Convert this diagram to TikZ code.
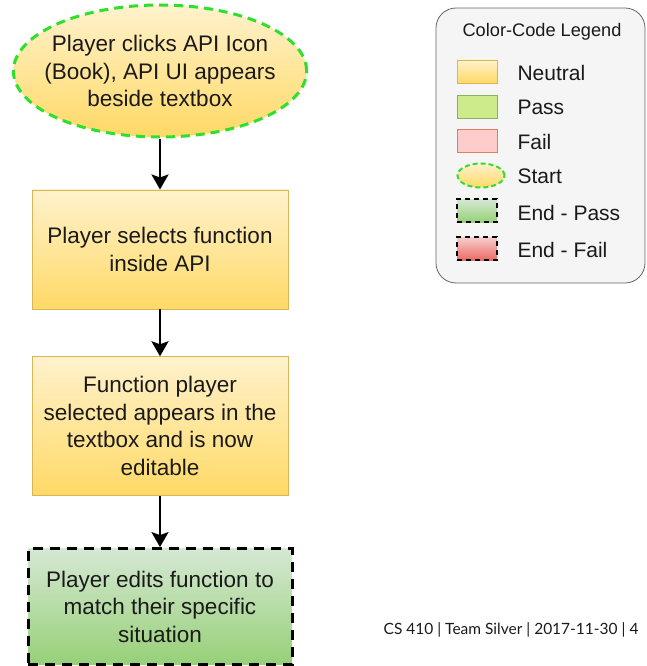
\documentclass[tikz,border=0pt]{standalone}
\usepackage{fontspec}
\setmainfont{Liberation Sans}
\newfontfamily\footfont{Lato}
\usepackage{tikz}
\usetikzlibrary{arrows.meta,shapes,positioning}
\usepackage{xcolor}
\definecolor{nttop}{HTML}{FFF2CC}
\definecolor{ntbot}{HTML}{FFD966}
\definecolor{ntline}{HTML}{D6B656}
\definecolor{pstop}{HTML}{D5E8D4}
\definecolor{psbot}{HTML}{97D077}
\definecolor{psfill}{HTML}{CDEB8B}
\definecolor{psline}{HTML}{82B366}
\definecolor{flfill}{HTML}{FFCCCC}
\definecolor{flline}{HTML}{D9825B}
\definecolor{fltop}{HTML}{F8CECC}
\definecolor{flbot}{HTML}{EA6B66}
\definecolor{stgreen}{HTML}{2EE02E}
\definecolor{lgfill}{HTML}{F5F5F5}
\definecolor{lgline}{HTML}{666666}
\definecolor{txt}{HTML}{1A1A1A}
\tikzstyle{start} = [ellipse, draw=stgreen, line width=3pt, dash pattern=on 9pt off 6pt, top color=nttop, bottom color=ntbot, minimum width=293pt, minimum height=132pt, inner xsep=-12pt, inner ysep=0pt, align=center, text=txt]
\tikzstyle{process} = [rectangle, draw=ntline, line width=0.8pt, top color=nttop, bottom color=ntbot, minimum width=256pt, align=center, text=txt]
\tikzstyle{endpass} = [rectangle, draw=black, line width=3pt, dash pattern=on 10pt off 7pt, top color=pstop, bottom color=psbot, minimum width=264pt, minimum height=116pt, align=center, text=txt]
\tikzstyle{key} = [rectangle, minimum width=40pt, minimum height=23pt, inner sep=0pt]
\tikzstyle{keytext} = [anchor=west, text=txt, font=\fontsize{21}{24}\selectfont]
\tikzstyle{arrow} = [line width=2.5pt, -{Stealth[length=15pt, width=17pt, inset=3pt]}]

\begin{document}
\begin{tikzpicture}[x=1pt, y=1pt, font=\fontsize{22.5}{27.5}\selectfont]
\useasboundingbox (0,0) rectangle (647,-666);
% flow
\node (click) [start] at (160,-71) {Player clicks API Icon\\(Book), API UI appears\\beside textbox};
\node (select) [process, below=51pt of click, minimum height=119pt] {Player selects function\\inside API};
\node (appear) [process, below=47pt of select, minimum height=139pt] {Function player\\selected appears in the\\textbox and is now\\editable};
\node (edit) [endpass, below=51pt of appear] {Player edits function to\\match their specific\\situation};
\draw[arrow] (click) -- (select);
\draw[arrow] (select) -- (appear);
\draw[arrow] (appear) -- (edit);
% legend
\node (legend) [rectangle, rounded corners=20pt, draw=lgline, line width=0.8pt, fill=lgfill, minimum width=209pt, minimum height=275pt] at (540.5,-145.5) {};
\node (title) [text=txt, font=\fontsize{18.2}{21}\selectfont] at (542,-32) {Color-Code Legend};
\node (kneutral) [key, draw=ntline, top color=nttop, bottom color=ntbot] at (477,-71.5) {};
\node (kpass) [key, draw=psline, fill=psfill] at (477,-106.5) {};
\node (kfail) [key, draw=flline, fill=flfill] at (477,-141) {};
\node (kstart) [ellipse, draw=stgreen, line width=2pt, dash pattern=on 5pt off 3pt, top color=nttop, bottom color=ntbot, minimum width=47pt, minimum height=24pt, inner sep=0pt] at (481,-175.5) {};
\node (kendpass) [key, draw=black, line width=2.2pt, dash pattern=on 5pt off 4pt, top color=pstop, bottom color=psbot] at (477,-210.5) {};
\node (kendfail) [key, draw=black, line width=2.2pt, dash pattern=on 5pt off 4pt, top color=fltop, bottom color=flbot] at (477,-248.5) {};
\node (tneutral) [keytext] at (514,-73) {Neutral};
\node (tpass) [keytext] at (514,-107) {Pass};
\node (tfail) [keytext] at (514,-142) {Fail};
\node (tstart) [keytext] at (514,-176) {Start};
\node (tendpass) [keytext] at (514,-213) {End - Pass};
\node (tendfail) [keytext] at (514,-250) {End - Fail};
% footer
\node (footer) [anchor=east, text=txt, font=\footfont\fontsize{15.5}{18}\selectfont] at (642,-630) {CS 410 | Team Silver | 2017-11-30 | 4};
\end{tikzpicture}
\end{document}
